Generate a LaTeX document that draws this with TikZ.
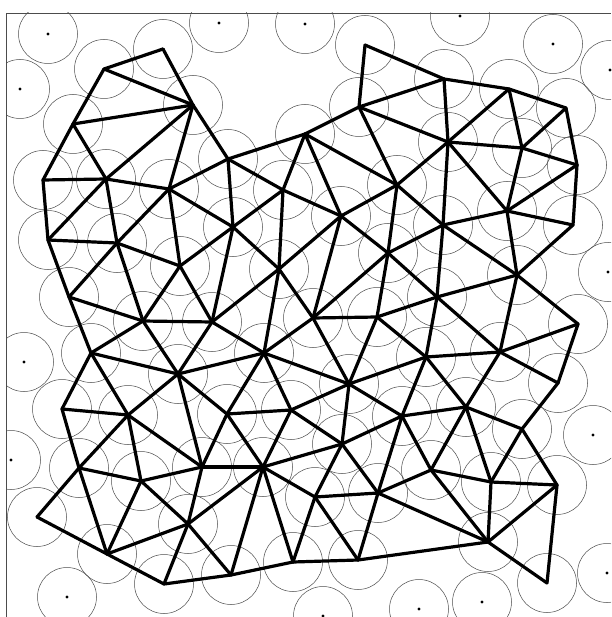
\documentclass[tikz,border=0pt]{standalone}
\begin{document}
\begin{tikzpicture}[x=1pt,y=-1pt,
  mesh/.style={line width=3.2pt, line cap=round, line join=round, draw=black},
  ring/.style={line width=0.5pt, draw=black!70},
  frameline/.style={line width=0.8pt, draw=black!70},
  dotmark/.style={fill=black}]
\useasboundingbox (0,0) rectangle (611,617);
% mesh vertices
\foreach \n/\x/\y in {
 1/163/49, 2/104/69, 3/193/105, 4/73/124, 5/43/180, 6/106/179, 7/169/189,
 8/228/159, 9/305/134, 10/365/45, 11/359/107, 12/444/79, 13/509/89, 14/566/108,
 15/577/165, 16/448/142, 17/522/148, 18/507/211, 19/573/225, 20/443/225,
 21/517/275, 22/437/297, 23/578/324, 24/500/352, 25/426/357, 26/558/383,
 27/466/407, 28/283/190, 29/397/185, 30/233/227, 31/341/216, 32/388/253,
 33/279/269, 34/212/322, 35/313/318, 36/377/317, 37/264/353, 38/349/384,
 39/48/240, 40/117/243, 41/180/266, 42/69/297, 43/143/321, 44/91/353,
 45/178/374, 46/62/409, 47/128/415, 48/79/468, 49/141/481, 50/202/467,
 51/37/517, 52/188/524, 53/107/554, 54/164/584, 55/227/414, 56/291/410,
 57/402/416, 58/342/444, 59/263/467, 60/315/497, 61/378/493, 62/231/575,
 63/293/562, 64/358/560, 65/522/429, 66/431/470, 67/491/482, 68/557/485,
 69/488/542, 70/547/583}
 \coordinate (v\n) at (\x,\y);
% isolated points
\foreach \n/\x/\y in {
 1/48/34, 2/20/89, 3/219/23, 4/305/24, 5/460/16, 6/553/44, 7/610/70,
 8/608/272, 9/24/362, 10/11/460, 11/593/435, 12/607/573, 13/482/602,
 14/419/609, 15/323/616, 16/67/597}
 \coordinate (d\n) at (\x,\y);
% frame
\coordinate (fa) at (6,617);
\coordinate (fb) at (6,13);
\coordinate (fc) at (611,13);
\draw[frameline] (fa) -- (fb) -- (fc);
% circles
\begin{scope}
 \clip (6,13) rectangle (611,617);
 \foreach \n in {1,...,70} \draw[ring] (v\n) circle (29.5pt);
 \foreach \n in {1,...,16} \draw[ring] (d\n) circle (29.5pt);
\end{scope}
\foreach \n in {1,...,16} \fill[dotmark] (d\n) circle (1.7pt);
% mesh edges
\foreach \a/\b in {
 1/2,1/3,2/3,2/4,3/4,4/5,4/6,3/6,5/6,6/7,3/7,3/8,7/8,5/39,6/39,6/40,7/40,7/41,7/30,
 8/9,8/30,8/28,9/11,9/28,9/31,9/29,10/11,10/12,11/12,11/16,11/29,
 28/30,28/33,28/31,
 12/13,12/16,13/14,13/16,13/17,14/17,14/15,15/17,16/17,16/29,16/20,16/18,17/18,15/18,15/19,
 18/19,18/20,18/21,19/21,20/29,20/32,20/21,20/22,21/22,21/24,21/23,22/24,22/25,22/36,22/32,
 23/24,23/26,24/25,24/26,24/27,26/65,25/36,25/38,25/57,25/27,
 29/31,29/32,31/32,31/33,31/35,32/35,32/36,
 30/33,30/41,30/34,33/34,33/35,33/37,35/36,35/37,35/38,36/38,34/37,34/43,34/45,34/41,
 37/45,37/55,37/56,37/38,38/56,38/58,38/57,
 39/40,39/42,40/41,40/42,40/43,41/43,42/43,42/44,43/44,43/45,44/45,44/46,44/47,45/47,45/50,45/55,
 46/47,46/48,47/48,47/49,47/50,48/49,48/51,48/53,49/50,49/52,49/53,51/53,52/53,53/54,52/54,
 54/62,52/59,52/62,50/52,50/59,50/55,
 55/56,55/59,56/59,56/58,57/58,58/59,58/60,58/61,59/60,59/62,59/63,60/61,60/63,60/64,61/64,
 57/61,61/66,61/69,62/63,63/64,64/69,27/57,57/66,
 27/66,27/67,27/65,65/67,65/68,66/67,66/69,67/68,67/69,68/69,68/70,69/70}
 \draw[mesh] (v\a) -- (v\b);
\end{tikzpicture}
\end{document}
